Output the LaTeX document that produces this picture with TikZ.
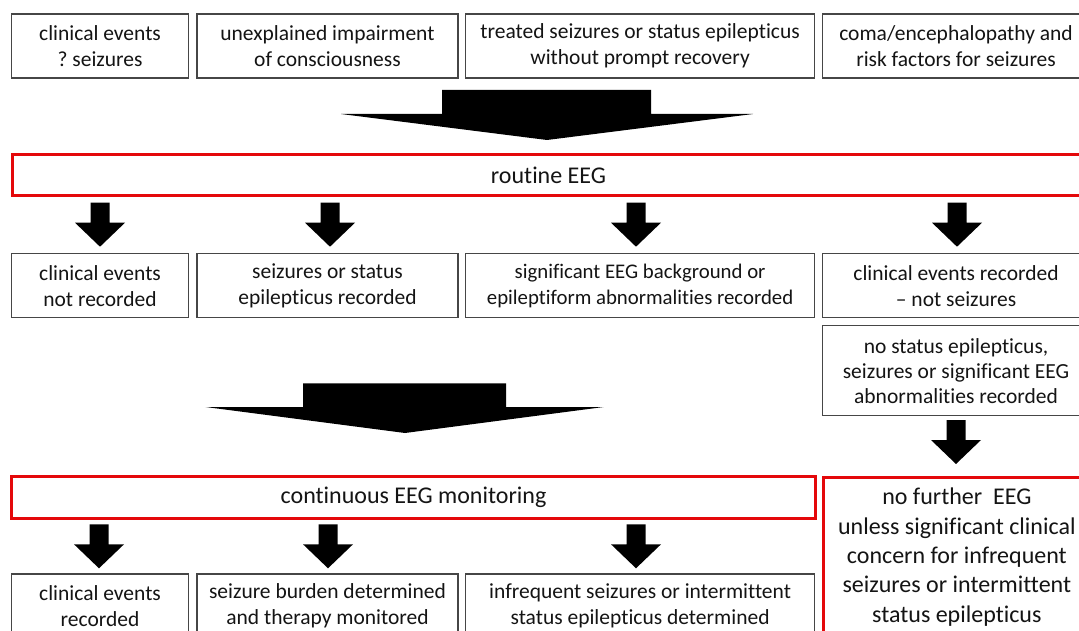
\documentclass[tikz,border=0pt]{standalone}
\usepackage{fontspec}
\setmainfont{Carlito}[Ligatures=NoCommon]
\definecolor{boxline}{RGB}{70,70,70}
\definecolor{txt}{RGB}{20,20,20}
\definecolor{redline}{RGB}{228,8,10}
\tikzset{
  box/.style={draw=boxline, line width=1.4pt, fill=white, anchor=north west, inner sep=0pt,
    minimum height=64pt, align=center, text=txt, font=\fontsize{21.5}{26}\selectfont},
  redbox/.style={box, draw=redline, line width=3pt, font=\fontsize{24}{29.3}\selectfont},
  arrowfill/.style={fill=black}
}
\newcommand\blkarrow[2]{%
  \fill[arrowfill] (#1-9.5,#2) -- (#1+9.5,#2) -- (#1+9.5,#2+20) -- (#1+25,#2+20)
    -- (#1,#2+44) -- (#1-25,#2+20) -- (#1-9.5,#2+20) -- cycle;}
\begin{document}
\frenchspacing
\begin{tikzpicture}[x=1pt,y=-1pt]
\useasboundingbox (0,0) rectangle (1079,631);
\clip (0,0) rectangle (1079,631);
% top row
\node[box, minimum width=176.7pt] (t1) at (11,13.3) {clinical events\\? seizures};
\node[box, minimum width=261pt] (t2) at (196.3,13.3) {unexplained impairment\\of consciousness};
\node[box, minimum width=348.8pt] (t3) at (465,13.3) {treated seizures or status epilepticus\\without prompt recovery};
\node[box, minimum width=267.3pt] (t4) at (821.7,13.3) {coma/encephalopathy and\\risk factors for seizures};
% big arrow 1
\fill[arrowfill] (442,90) -- (651,90) -- (651,114) -- (753,114) -- (547,140) -- (341,114) -- (442,114) -- cycle;
% routine EEG
\node[redbox, minimum width=1072pt, minimum height=41.6pt] (routine) at (11,152.7) {routine EEG};
% small arrows row 1
\blkarrow{100}{202.7}
\blkarrow{330}{202.7}
\blkarrow{636}{202.7}
\blkarrow{957}{202.7}
% second row
\node[box, minimum width=176.7pt] (r1) at (11,253) {clinical events\\not recorded};
\node[box, minimum width=261pt] (r2) at (196.3,253) {seizures or status\\epilepticus recorded};
\node[box, minimum width=348.8pt, font=\fontsize{20.8}{26}\selectfont] (r3) at (465,253) {significant EEG background or\\epileptiform abnormalities recorded};
\node[box, minimum width=267.3pt] (r4) at (821.7,253) {clinical events recorded\\\textendash\ not seizures};
\node[box, minimum width=267.3pt, minimum height=90pt, font=\fontsize{21.5}{25}\selectfont] (ns) at (821.7,325) {no status epilepticus,\\seizures or significant EEG\\abnormalities recorded};
% big arrow 2
\fill[arrowfill] (303,383.3) -- (506,383.3) -- (506,407) -- (603.7,407) -- (405,433) -- (205.6,407) -- (303,407) -- cycle;
% arrow to no further
\blkarrow{956}{420}
% continuous EEG
\node[redbox, minimum width=803.5pt, minimum height=42.3pt] (cont) at (10.3,475) {continuous EEG monitoring};
\node[redbox, minimum width=267.3pt, minimum height=159pt] (nf) at (821.7,476) {no further\ \ EEG\\unless significant clinical\\concern for infrequent\\seizures or intermittent\\status epilepticus};
% small arrows row 3
\blkarrow{99}{524.3}
\blkarrow{328}{524.3}
\blkarrow{636}{524.3}
% third row
\node[box, minimum width=176.7pt] (b1) at (11,573.3) {clinical events\\recorded};
\node[box, minimum width=261pt] (b2) at (196.3,573.3) {seizure burden determined\\and therapy monitored};
\node[box, minimum width=348.8pt] (b3) at (465,573.3) {infrequent seizures or intermittent\\status epilepticus determined};
\end{tikzpicture}
\end{document}
